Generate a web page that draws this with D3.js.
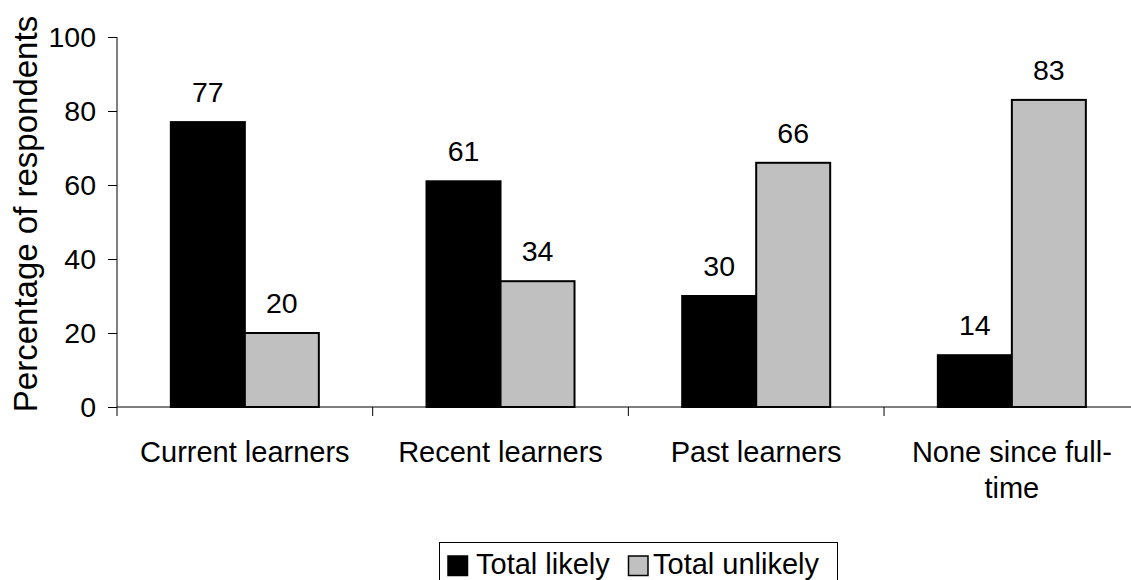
<!DOCTYPE html>
<html>
<head>
<meta charset="utf-8">
<script src="https://cdn.jsdelivr.net/npm/d3@7"></script>
<style>
  html, body { margin: 0; padding: 0; background: #fff; }
  svg { display: block; font-family: "Liberation Sans", Arial, sans-serif; }
</style>
</head>
<body>
<svg id="chart" width="1131" height="580"></svg>
<script>
const categories = [["Current learners"], ["Recent learners"], ["Past learners"], ["None since full-", "time"]];
const seriesNames = ["Total likely", "Total unlikely"];
const likely = [77, 61, 30, 14];
const unlikely = [20, 34, 66, 83];
const yTicks = [0, 20, 40, 60, 80, 100];
const colors = ["#000000", "#c0c0c0"];

const svg = d3.select("#chart");
const x0 = 117, x1 = 1139.7, yTop = 37, yBot = 407;

const x = d3.scaleBand().domain(d3.range(categories.length)).range([x0, x1]).paddingInner(0).paddingOuter(0);
const y = d3.scaleLinear().domain([0, 100]).range([yBot, yTop]);
const barW = 74;
const inner = d3.scaleBand().domain([0, 1]).range([0, barW * 2]);

// bars
const values = [likely, unlikely];
const g = svg.append("g");
categories.forEach((c, i) => {
  const off = x(i) + (x.bandwidth() - barW * 2) / 2;
  values.forEach((vals, s) => {
    const v = vals[i];
    g.append("rect")
      .attr("x", off + inner(s))
      .attr("y", y(v))
      .attr("width", inner.bandwidth())
      .attr("height", y(0) - y(v))
      .attr("fill", colors[s])
      .attr("stroke", "#000")
      .attr("stroke-width", 2);
    g.append("text")
      .attr("x", off + inner(s) + inner.bandwidth() / 2)
      .attr("y", y(v) - 20)
      .attr("text-anchor", "middle")
      .attr("font-size", 28.5)
      .attr("fill", "#000")
      .text(v);
  });
});

// y axis
const yAxis = d3.axisLeft(y).tickValues(yTicks).tickSize(9).tickPadding(12);
const ya = svg.append("g").attr("transform", `translate(${x0},0)`).call(yAxis);
ya.select(".domain").attr("stroke", "#000").attr("d", `M0,${yTop}V${yBot}`);
ya.selectAll(".tick line").attr("stroke", "#000");
ya.selectAll(".tick text").attr("font-size", 28.5).attr("fill", "#000").attr("font-family", "Liberation Sans, Arial, sans-serif");

// x axis
const xa = svg.append("g").attr("transform", `translate(0,${yBot})`);
xa.append("line").attr("x1", x0).attr("x2", x1).attr("y1", 0).attr("y2", 0).attr("stroke", "#000");
const bounds = d3.range(categories.length + 1).map(i => i < categories.length ? x(i) : x1);
xa.selectAll("line.tk").data(bounds).enter().append("line")
  .attr("class", "tk")
  .attr("x1", d => d).attr("x2", d => d)
  .attr("y1", 0).attr("y2", 9).attr("stroke", "#000");

categories.forEach((lines, i) => {
  const t = svg.append("text")
    .attr("x", x(i) + x.bandwidth() / 2)
    .attr("y", 462)
    .attr("text-anchor", "middle")
    .attr("font-size", 29)
    .attr("fill", "#000");
  lines.forEach((ln, k) => {
    t.append("tspan").attr("x", x(i) + x.bandwidth() / 2).attr("y", 462 + k * 36).text(ln);
  });
});

// y title
svg.append("text")
  .attr("transform", `translate(37,214) rotate(-90)`)
  .attr("text-anchor", "middle")
  .attr("font-size", 33)
  .attr("fill", "#000")
  .text("Percentage of respondents");

// legend
const lg = svg.append("g");
lg.append("rect").attr("x", 439.5).attr("y", 542.5).attr("width", 398).attr("height", 60)
  .attr("fill", "#fff").attr("stroke", "#000").attr("stroke-width", 1);
const legX = [448, 628.5];
const legTextX = [476, 653];
seriesNames.forEach((n, s) => {
  lg.append("rect").attr("x", legX[s]).attr("y", 556).attr("width", 19.5).attr("height", 19.5)
    .attr("fill", colors[s]).attr("stroke", "#000").attr("stroke-width", 1.5);
  lg.append("text").attr("x", legTextX[s]).attr("y", 574).attr("font-size", 29).attr("fill", "#000").text(n);
});
</script>
</body>
</html>
